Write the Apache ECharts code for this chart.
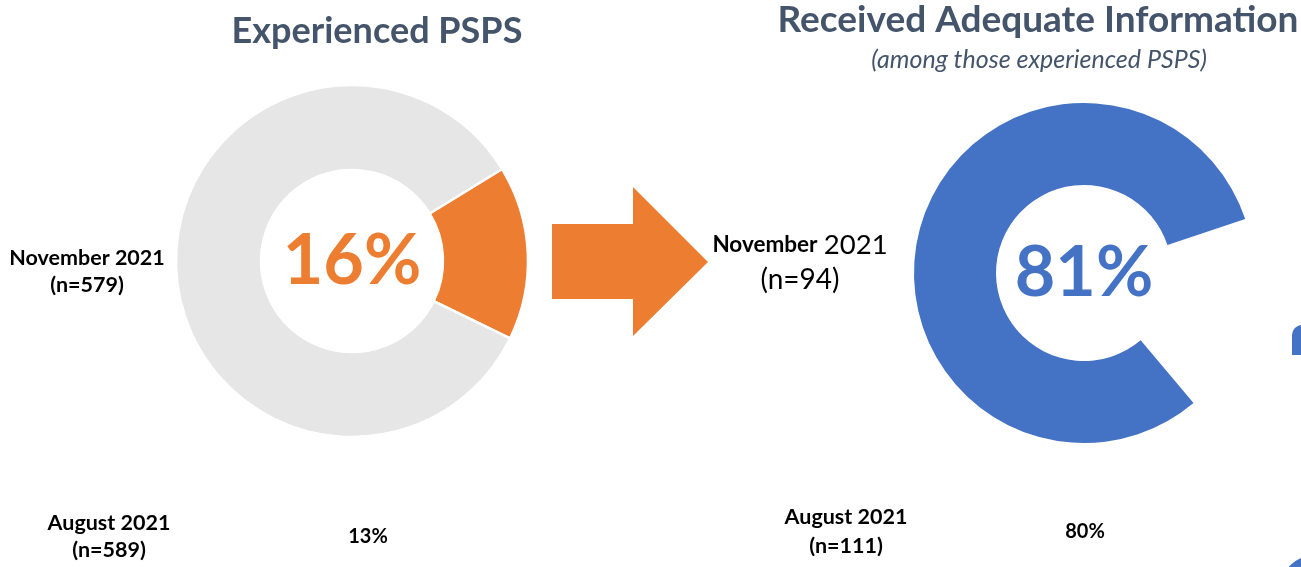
<!DOCTYPE html>
<html>
<head>
<meta charset="utf-8">
<script src="https://cdn.jsdelivr.net/npm/echarts@6/dist/echarts.min.js"></script>
<style>
  html, body { margin: 0; padding: 0; background: #ffffff; }
  #chart { width: 1301px; height: 567px; }
</style>
</head>
<body>
<div id="chart"></div>
<script>
// Survey waves and sample sizes
const waves = ['November 2021', 'August 2021'];
const experiencedN = [579, 589];
const experiencedPct = [16, 13];
const adequateN = [94, 111];
const adequatePct = [81, 80];

const ORANGE = '#ED7D31';
const BLUE = '#4472C4';
const GREY = '#E6E6E6';
const SLATE = '#44546A';
const FONT = 'Lato, "Open Sans", sans-serif';

const chart = echarts.init(document.getElementById('chart'), null, { renderer: 'canvas' });

function centerLabel(color) {
  return {
    show: true,
    position: 'center',
    formatter: '{c}%',
    color: color,
    fontFamily: FONT,
    fontWeight: 'bold',
    fontSize: 70
  };
}

function txt(x, y, text, font, extra) {
  return {
    type: 'text',
    position: [x, y],
    style: Object.assign({ text: text, fill: '#000', font: font, textAlign: 'center', textVerticalAlign: 'middle' }, extra || {})
  };
}

const [novWord, novYear] = waves[0].split(' ');

const option = {
  backgroundColor: '#ffffff',
  animation: false,
  series: [
    {
      // Share of respondents who experienced a PSPS event (latest wave)
      type: 'pie',
      center: [352, 261],
      radius: [91, 176],
      startAngle: 31.5,
      clockwise: true,
      silent: true,
      labelLine: { show: false },
      itemStyle: { borderColor: '#ffffff', borderWidth: 2.5 },
      data: [
        { value: experiencedPct[0], itemStyle: { color: ORANGE }, label: centerLabel(ORANGE) },
        { value: 100 - experiencedPct[0], itemStyle: { color: GREY }, label: { show: false } }
      ]
    },
    {
      // Share who received adequate information, among those affected
      type: 'pie',
      center: [1084, 273],
      radius: [88, 170],
      startAngle: 18.5,
      clockwise: false,
      silent: true,
      labelLine: { show: false },
      data: [
        { value: adequatePct[0], itemStyle: { color: BLUE }, label: centerLabel(BLUE) },
        { value: 100 - adequatePct[0], itemStyle: { color: 'rgba(0,0,0,0)' }, label: { show: false } }
      ]
    }
  ],
  graphic: [
    // Titles
    txt(377, 31, 'Experienced PSPS', 'bold 36px ' + FONT, { fill: SLATE }),
    txt(1038, 20, 'Received Adequate Information', 'bold 37px ' + FONT, { fill: SLATE }),
    txt(1039, 60, '(among those experienced PSPS)', 'italic 25px ' + FONT, { fill: SLATE }),
    // Arrow between the two donuts
    {
      type: 'polygon',
      shape: { points: [[552, 224], [633, 224], [633, 187], [708, 262], [633, 336], [633, 299], [552, 299]] },
      style: { fill: ORANGE }
    },
    // Wave labels, left panel
    txt(87, 258, waves[0], 'bold 21.5px ' + FONT),
    txt(87, 285, '(n=' + experiencedN[0] + ')', 'bold 21.5px ' + FONT),
    txt(109, 523, waves[1], 'bold 21.5px ' + FONT),
    txt(109, 550, '(n=' + experiencedN[1] + ')', 'bold 21.5px ' + FONT),
    txt(368, 537, experiencedPct[1] + '%', 'bold 20px ' + FONT),
    // Wave labels, right panel
    {
      type: 'text', position: [800, 245],
      style: {
        text: '{b|' + novWord + '} {r|' + novYear + '}', textAlign: 'center', textVerticalAlign: 'middle',
        rich: {
          b: { fill: '#000', font: 'bold 22.5px ' + FONT },
          r: { fill: '#000', font: '27.5px ' + FONT, padding: [0, 0, 0, 3] }
        }
      }
    },
    txt(800, 280, '(n=' + adequateN[0] + ')', '28px ' + FONT),
    txt(846, 517, waves[1], 'bold 21.5px ' + FONT),
    txt(846, 546, '(n=' + adequateN[1] + ')', 'bold 21.5px ' + FONT),
    txt(1085, 532, adequatePct[1] + '%', 'bold 20px ' + FONT),
    // Edges of the next panel peeking in at the right border
    {
      type: 'rect',
      shape: { x: 1292, y: 325, width: 20, height: 30, r: [10, 0, 0, 0] },
      style: { fill: BLUE }
    },
    {
      type: 'sector',
      shape: { cx: 1312, cy: 586, r: 30, r0: 16, startAngle: Math.PI, endAngle: Math.PI * 1.5 },
      style: { fill: BLUE }
    }
  ]
};

chart.setOption(option);
</script>
</body>
</html>
